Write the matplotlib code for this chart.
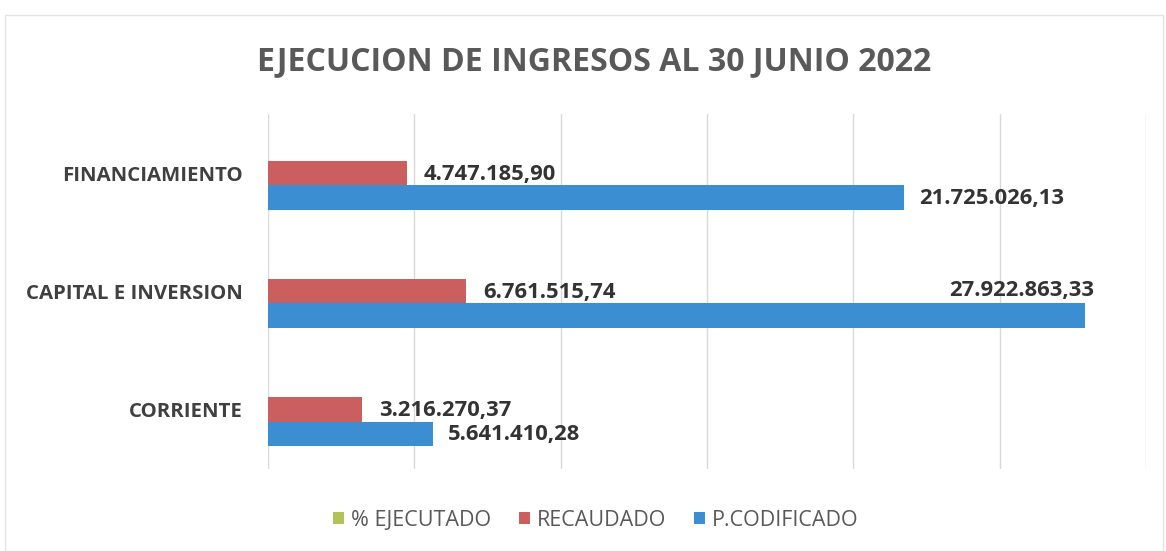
import matplotlib
matplotlib.use("Agg")
import matplotlib.pyplot as plt
from matplotlib.patches import Rectangle
import numpy as np

categories = ["CORRIENTE", "CAPITAL E INVERSION", "FINANCIAMIENTO"]
pct_ejecutado = [57.01, 24.22, 21.85]
recaudado = [3216270.37, 6761515.74, 4747185.90]
codificado = [5641410.28, 27922863.33, 21725026.13]
series_names = ["% EJECUTADO", "RECAUDADO", "P.CODIFICADO"]
title = "EJECUCION DE INGRESOS AL 30 JUNIO 2022"

colors = ["#B3C35A", "#CB5F60", "#3B8ED2"]
FONT = ["Open Sans", "DejaVu Sans"]
plt.rcParams['font.family'] = FONT

def fmt(v):
    s = f"{v:,.2f}"
    return s.replace(",", "X").replace(".", ",").replace("X", ".")

fig = plt.figure(figsize=(11.66, 5.51), dpi=100)
ax = fig.add_axes([268/1166, 1-468.5/551, (1146-268)/1166, (468.5-114)/551])

y = np.arange(len(categories))
h = 0.207
ax.barh(y + h, pct_ejecutado, height=h, color=colors[0], label=series_names[0])
ax.barh(y, recaudado, height=h, color=colors[1], label=series_names[1])
ax.barh(y - h, codificado, height=h, color=colors[2], label=series_names[2])

ax.set_xlim(0, 30e6)
ax.set_ylim(-0.5, 2.5)
ax.set_xticks(np.arange(0, 30e6 + 1, 5e6))
ax.set_xticklabels([])
ax.tick_params(axis='x', length=0)
ax.tick_params(axis='y', length=0, pad=18)
ax.set_yticks(y)
ax.set_yticklabels(categories, fontsize=14.7, fontweight='bold', color='#404040')
ax.grid(axis='x', color='#D9D9D9', linewidth=1)
ax.set_axisbelow(True)
for s in ax.spines.values():
    s.set_visible(False)

lab_kw = dict(fontsize=15.8, fontweight='bold', color='#333333', va='center',
              textcoords='offset pixels')
for i in range(len(categories)):
    ax.annotate(fmt(recaudado[i]), (recaudado[i], y[i]), xytext=(17, -1), ha='left', **lab_kw)
    if codificado[i] > 25e6:
        ax.annotate(fmt(codificado[i]), (codificado[i], y[i]), xytext=(9, 1), ha='right', **lab_kw)
    else:
        ax.annotate(fmt(codificado[i]), (codificado[i], y[i] - h), xytext=(15, -1), ha='left', **lab_kw)

fig.text(594/1166, 1-62/551, title, ha='center', va='center', fontsize=23,
         fontweight='bold', color='#595959')

handles, labels = ax.get_legend_handles_labels()
fig.legend(handles, labels, loc='center', bbox_to_anchor=(596/1166, 1-520/551), ncol=3,
           frameon=False, fontsize=15.5, labelcolor='#595959', handlelength=0.5,
           handleheight=0.5, handletextpad=0.33, columnspacing=1.3)

fig.patches.append(Rectangle((5/1166, 0.0), 1158/1166, 1-15/551, transform=fig.transFigure,
                             fill=False, edgecolor='#E3E3E3', linewidth=1))

fig.savefig("out.png", dpi=100)
